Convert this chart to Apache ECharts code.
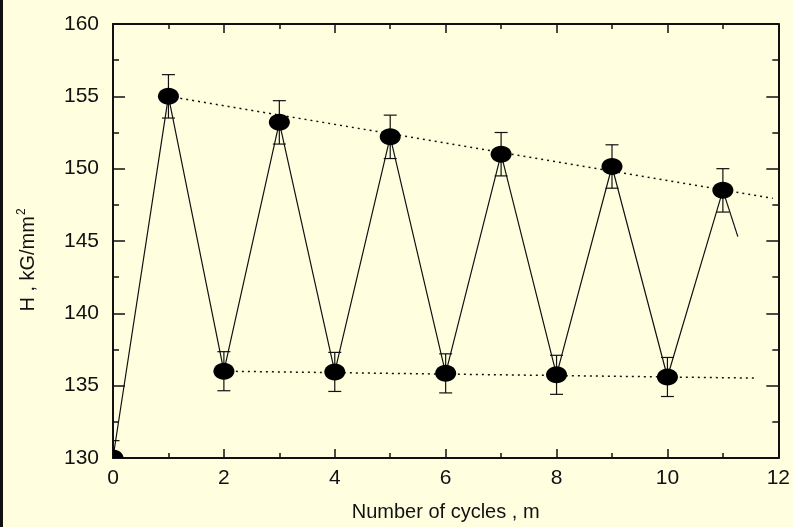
<!DOCTYPE html>
<html>
<head>
<meta charset="utf-8">
<script src="https://cdn.jsdelivr.net/npm/echarts@6/dist/echarts.min.js"></script>
<style>
  html, body { margin: 0; padding: 0; background: #FFFFE0; }
  body { border-left: 3px solid #111; box-sizing: border-box; width: 793px; height: 527px; }
  #chart { width: 790px; height: 527px; }
</style>
</head>
<body>
<div id="chart"></div>
<script>
// Hardness H (kG/mm^2) measured over alternating cycles
const cycles   = [0, 1, 2, 3, 4, 5, 6, 7, 8, 9, 10, 11];
const hardness = [130.0, 155.0, 136.0, 153.2, 135.95, 152.2, 135.85, 151.0, 135.75, 150.15, 135.6, 148.5];
const errors   = [1.2, 1.5, 1.35, 1.5, 1.35, 1.5, 1.35, 1.5, 1.35, 1.5, 1.35, 1.5];

// short run-out of the connecting line after the last cycle
const tail = [[11, 148.5], [11.27, 145.3]];

// dotted trend lines through the maxima and the minima
const upperTrend = [[1, 155.0], [11.9, 147.95]];
const lowerTrend = [[2, 136.0], [11.62, 135.52]];

const xTicks = { min: 0, max: 12, interval: 2 };
const yTicks = { min: 130, max: 160, interval: 5 };

const ink = '#111';
const font = 'Liberation Sans, Arial, sans-serif';

const points = cycles.map((c, i) => [c, hardness[i], errors[i]]);

function axisBase(extra) {
  return Object.assign({
    type: 'value',
    splitLine: { show: false },
    minorSplitLine: { show: false },
    axisLine: { show: true, onZero: false, lineStyle: { color: ink, width: 2 } },
    minorTick: { show: true, splitNumber: 2, lineStyle: { color: ink, width: 1.5 } },
    axisLabel: { color: ink, fontSize: 20, fontFamily: font }
  }, extra);
}

const chart = echarts.init(document.getElementById('chart'), null, { renderer: 'canvas' });

chart.setOption({
  backgroundColor: '#FFFFE0',
  animation: false,
  grid: { left: 110, right: 12, top: 24, bottom: 69, containLabel: false },
  xAxis: [
    axisBase(Object.assign({}, xTicks, {
      position: 'bottom',
      name: 'Number of cycles , m',
      nameLocation: 'middle',
      nameGap: 44,
      nameTextStyle: { color: ink, fontSize: 20, fontFamily: font },
      axisTick: { inside: true, length: 9, lineStyle: { color: ink, width: 1.5 } },
      minorTick: { show: true, splitNumber: 2, length: 5, lineStyle: { color: ink, width: 1.5 } },
      axisLabel: { color: ink, fontSize: 21, fontFamily: font, margin: 10 }
    })),
    axisBase(Object.assign({}, xTicks, {
      position: 'top',
      axisTick: { inside: true, length: 9, lineStyle: { color: ink, width: 1.5 } },
      minorTick: { show: true, splitNumber: 2, length: 5, lineStyle: { color: ink, width: 1.5 } },
      axisLabel: { show: false }
    }))
  ],
  yAxis: [
    axisBase(Object.assign({}, yTicks, {
      position: 'left',
      name: '{a|H , kG/mm}{s|2}',
      nameLocation: 'middle',
      nameRotate: 90,
      nameGap: 72,
      nameTextStyle: {
        color: ink, fontSize: 20, fontFamily: font,
        padding: [0, 38, 0, 0],
        rich: {
          a: { color: ink, fontSize: 20, fontFamily: font, lineHeight: 22 },
          s: { color: ink, fontSize: 12, fontFamily: font, padding: [0, 0, 13, 1] }
        }
      },
      axisTick: { inside: true, length: 12, lineStyle: { color: ink, width: 1.5 } },
      minorTick: { show: true, splitNumber: 2, length: 6, lineStyle: { color: ink, width: 1.5 } },
      axisLabel: { color: ink, fontSize: 21, fontFamily: font, margin: 14 }
    })),
    axisBase(Object.assign({}, yTicks, {
      position: 'right',
      axisTick: { inside: true, length: 12, lineStyle: { color: ink, width: 1.5 } },
      minorTick: { show: true, splitNumber: 2, length: 6, lineStyle: { color: ink, width: 1.5 } },
      axisLabel: { show: false }
    }))
  ],
  series: [
    {
      type: 'line', data: upperTrend, symbol: 'none', z: 1,
      lineStyle: { color: ink, width: 1.5, type: [2, 4] }
    },
    {
      type: 'line', data: lowerTrend, symbol: 'none', z: 1,
      lineStyle: { color: ink, width: 1.5, type: [2, 4] }
    },
    {
      type: 'line', data: points.map(p => [p[0], p[1]]), symbol: 'none', z: 2, clip: true,
      lineStyle: { color: ink, width: 1.2 }
    },
    {
      type: 'line', data: tail, symbol: 'none', z: 2,
      lineStyle: { color: ink, width: 1.2 }
    },
    {
      // error bars with caps
      type: 'custom', z: 3, clip: true,
      data: points,
      renderItem: function (params, api) {
        const x = api.value(0), y = api.value(1), e = api.value(2);
        const hi = api.coord([x, y + e]);
        const lo = api.coord([x, y - e]);
        const cap = 6.5;
        const style = { stroke: ink, lineWidth: 1.2 };
        return {
          type: 'group',
          children: [
            { type: 'line', shape: { x1: hi[0], y1: hi[1], x2: lo[0], y2: lo[1] }, style: style },
            { type: 'line', shape: { x1: hi[0] - cap, y1: hi[1], x2: hi[0] + cap, y2: hi[1] }, style: style },
            { type: 'line', shape: { x1: lo[0] - cap, y1: lo[1], x2: lo[0] + cap, y2: lo[1] }, style: style }
          ]
        };
      }
    },
    {
      // filled elliptical markers
      type: 'custom', z: 4, clip: true,
      data: points,
      renderItem: function (params, api) {
        const c = api.coord([api.value(0), api.value(1)]);
        return {
          type: 'ellipse',
          shape: { cx: c[0], cy: c[1], rx: 10.5, ry: 8.5 },
          style: { fill: '#000' }
        };
      }
    }
  ]
});
</script>
</body>
</html>
